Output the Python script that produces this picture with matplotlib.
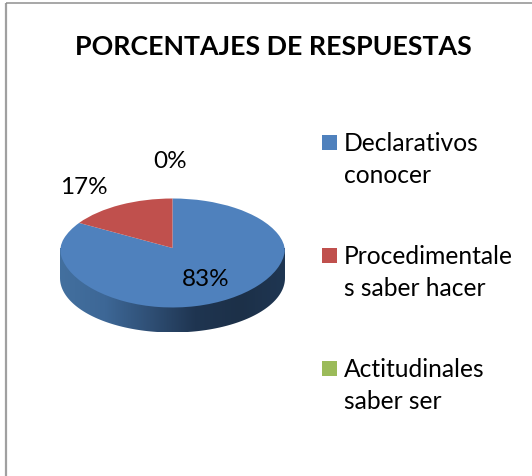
"""
Porcentajes de respuestas, 3D-looking pie chart.
"""

import numpy as np
import matplotlib
matplotlib.use("Agg")
import matplotlib.pyplot as plt
from matplotlib.colors import LinearSegmentedColormap
from matplotlib.patches import PathPatch, Rectangle
from matplotlib.path import Path

plt.rcParams['font.family'] = ['Lato', 'DejaVu Sans']

title = "PORCENTAJES DE RESPUESTAS"
categories = ["Declarativos\nconocer", "Procedimentale\ns saber hacer", "Actitudinales\nsaber ser"]
values = [83, 17, 0]
pct_labels = ["83%", "17%", "0%"]
colors = ["#4f81bd", "#c0504d", "#9bbb59"]

W, H = 532, 476
fig = plt.figure(figsize=(W / 100, H / 100), dpi=100, facecolor="white")

# overlay in pixel coordinates for frame and side wall
bg = fig.add_axes([0, 0, 1, 1])
bg.set_xlim(0, W)
bg.set_ylim(H, 0)
bg.axis("off")
bg.plot([6, 6], [H, 2.5], color="#a0a0a0", linewidth=1.6, solid_capstyle="butt")
bg.plot([6, W], [2.5, 2.5], color="#8f8f8f", linewidth=1.1, solid_capstyle="butt")

# ellipse geometry in pixels
cx, cy, rx, ry = 172.5, 253, 112.5, 54.5
depth = 25
apex_shift = 5 / ry  # apex sits above the ellipse middle, as in a perspective view
narrowing = 0.11     # far half of the pie is a bit narrower

# side wall, gradient clipped to the lower half of the ellipse
theta = np.linspace(np.pi, 0, 120)
wall_x = cx + rx * np.cos(theta)
wall_y = cy + ry * np.sin(theta) + depth
verts = [(cx - rx, cy - 5)] + list(zip(wall_x, wall_y)) + [(cx + rx, cy - 5), (cx - rx, cy - 5)]
wall = PathPatch(Path(verts), facecolor="none", edgecolor="none")
bg.add_patch(wall)
wall_cmap = LinearSegmentedColormap.from_list(
    "wall", ["#43709f", "#3d6796", "#2f4f75", "#1f3551", "#1c3048", "#1f3652"])
grad = bg.imshow(np.linspace(0, 1, 256).reshape(1, -1), cmap=wall_cmap, aspect="auto",
                 extent=(cx - rx, cx + rx, cy + ry + depth, cy - 6), zorder=1)
grad.set_clip_path(wall)
bg.set_xlim(0, W)
bg.set_ylim(H, 0)

# pie top, unit circle stretched to the ellipse
ax = fig.add_axes([(cx - rx) / W, 1 - (cy + ry) / H, 2 * rx / W, 2 * ry / H])
wedges, _ = ax.pie(values, colors=colors, startangle=90, counterclock=False, radius=1)
ax.set_aspect("auto")
ax.set_xlim(-1, 1)
ax.set_ylim(-1, 1)
for w in wedges:
    p = w.get_path()
    v = p.vertices.copy()
    y0 = np.clip(v[:, 1], -1, 1)
    v[:, 0] *= 1 - narrowing * np.clip(y0, 0, 1)
    v[:, 1] += apex_shift * (1 - y0 ** 2)
    w.set_visible(False)
    ax.add_patch(PathPatch(Path(v, p.codes), facecolor=w.get_facecolor(), edgecolor="none", clip_on=False))

ax.patch.set_alpha(0)
ax.set_zorder(2)
bg.set_zorder(1)

# texts go on a top layer so they stay above the pie
top = fig.add_axes([0, 0, 1, 1])
top.set_xlim(0, W)
top.set_ylim(H, 0)
top.axis("off")
top.set_zorder(3)

label_pos = [(206, 280), (84, 187), (170.5, 161)]
for txt, (x, y) in zip(pct_labels, label_pos):
    top.text(x, y, txt, fontsize=17.5, color="black", ha="center", va="center")

top.text(273, 47, title, fontsize=19.3, fontweight="bold", color="black", ha="center", va="center")

# legend drawn by hand to keep the odd wrapped labels
legend_y = [135, 248, 361]
for name, col, y in zip(categories, colors, legend_y):
    top.add_patch(Rectangle((322, y), 15, 15, facecolor=col, edgecolor="none"))
    top.text(344, y - 3, name, fontsize=17.7, color="black", ha="left", va="top", linespacing=1.45)

fig.savefig("out.png", dpi=100, facecolor="white")
